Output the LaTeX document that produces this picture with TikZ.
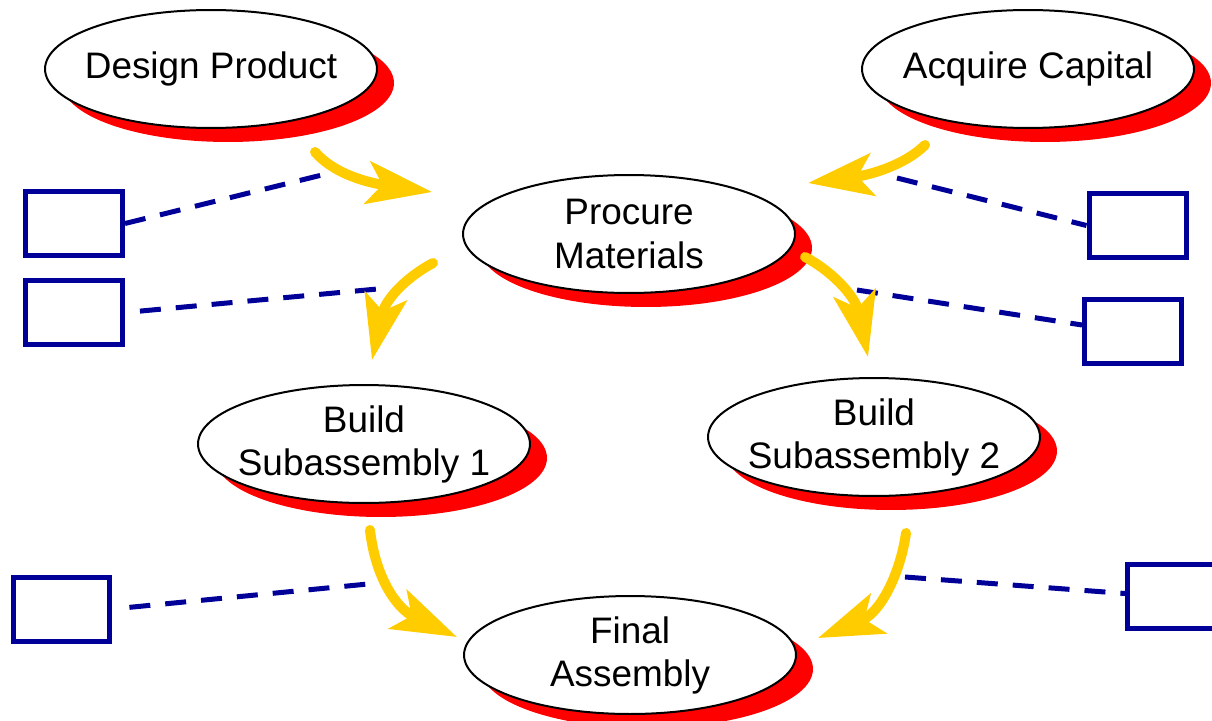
\documentclass[tikz,border=0pt]{standalone}
\usepackage{fontspec}
\setmainfont{Liberation Sans}
\usetikzlibrary{shapes.geometric,shadows,arrows.meta,calc}
\definecolor{navyline}{RGB}{0,0,153}
\definecolor{goldarrow}{RGB}{255,204,0}
\definecolor{shadowred}{RGB}{255,0,0}
\tikzset{
  task/.style={ellipse, draw=black, line width=0.04cm, fill=white,
    minimum width=6.64cm, minimum height=2.36cm, inner xsep=-0.5cm, inner ysep=0pt,
    align=center, font=\fontsize{21}{24.5}\selectfont,
    drop shadow={fill=shadowred, opacity=1, shadow xshift=0.34cm, shadow yshift=-0.28cm}},
  resbox/.style={rectangle, draw=navyline, line width=0.1cm, fill=white,
    minimum width=1.94cm, minimum height=1.28cm, inner sep=0pt},
  dashline/.style={draw=navyline, line width=0.1cm, dash pattern=on 0.42cm off 0.3cm},
  flow/.style={draw=goldarrow, line width=0.2cm, line cap=round,
    -{Stealth[length=1.3cm, width=0.85cm, inset=0.3cm, fill=goldarrow]}}
}
\begin{document}
\begin{tikzpicture}[x=0.02cm,y=-0.02cm]
\clip (0,0) rectangle (1212,720);
\fill[white] (0,0) rectangle (1212,720);

% task ellipses
\node[task] (dp) at (211,69) {Design Product};
\node[task] (ac) at (1028,69) {Acquire Capital};
\node[task] (pm) at (629,234) {Procure\\Materials};
\node[task] (b1) at (364,444) {Build\\Subassembly 1};
\node[task] (b2) at (874,437) {Build\\Subassembly 2};
\node[task] (fa) at (630,655) {Final\\Assembly};

% resource boxes
\node[resbox] (r1) at (74,223.5) {};
\node[resbox] (r2) at (74,312.5) {};
\node[resbox] (r3) at (1137.5,225.5) {};
\node[resbox] (r4) at (1133,331) {};
\node[resbox] (r5) at (61.5,609) {};
\node[resbox] (r6) at (1176,596.5) {};

% free ends of dashed lines
\coordinate (d1) at (330,173);
\coordinate (d2) at (388,288);
\coordinate (d3) at (897,178);
\coordinate (d4) at (857,290);
\coordinate (d5) at (378,583);
\coordinate (d6) at (905,577);

\draw[dashline] (r1.east) -- (d1);
\draw[dashline, shorten <=0.3cm] (r2.east) -- (d2);
\draw[dashline] (d3) -- (r3.west);
\draw[dashline] (d4) -- ($(r4.west)+(0,-6)$);
\draw[dashline, shorten <=0.34cm] (r5.east) -- (d5);
\draw[dashline] (d6) -- ($(r6.west)+(0,-3)$);

% arrow end points
\coordinate (a1s) at (315,152);  \coordinate (a1t) at (432,192);
\coordinate (a2s) at (925,145);  \coordinate (a2t) at (808,183);
\coordinate (a3s) at (433,263);  \coordinate (a3t) at (372,360);
\coordinate (a4s) at (805,257);  \coordinate (a4t) at (868,357);
\coordinate (a5s) at (370,530);  \coordinate (a5t) at (457,637);
\coordinate (a6s) at (906,533);  \coordinate (a6t) at (818,638);

\draw[flow] (a1s) .. controls (335,175) and (370,183) .. (a1t);
\draw[flow] (a2s) .. controls (905,165) and (870,175) .. (a2t);
\draw[flow] (a3s) .. controls (405,278) and (385,300) .. (a3t);
\draw[flow] (a4s) .. controls (830,270) and (855,295) .. (a4t);
\draw[flow] (a5s) .. controls (375,575) and (395,608) .. (a5t);
\draw[flow] (a6s) .. controls (900,575) and (880,613) .. (a6t);
\end{tikzpicture}
\end{document}
